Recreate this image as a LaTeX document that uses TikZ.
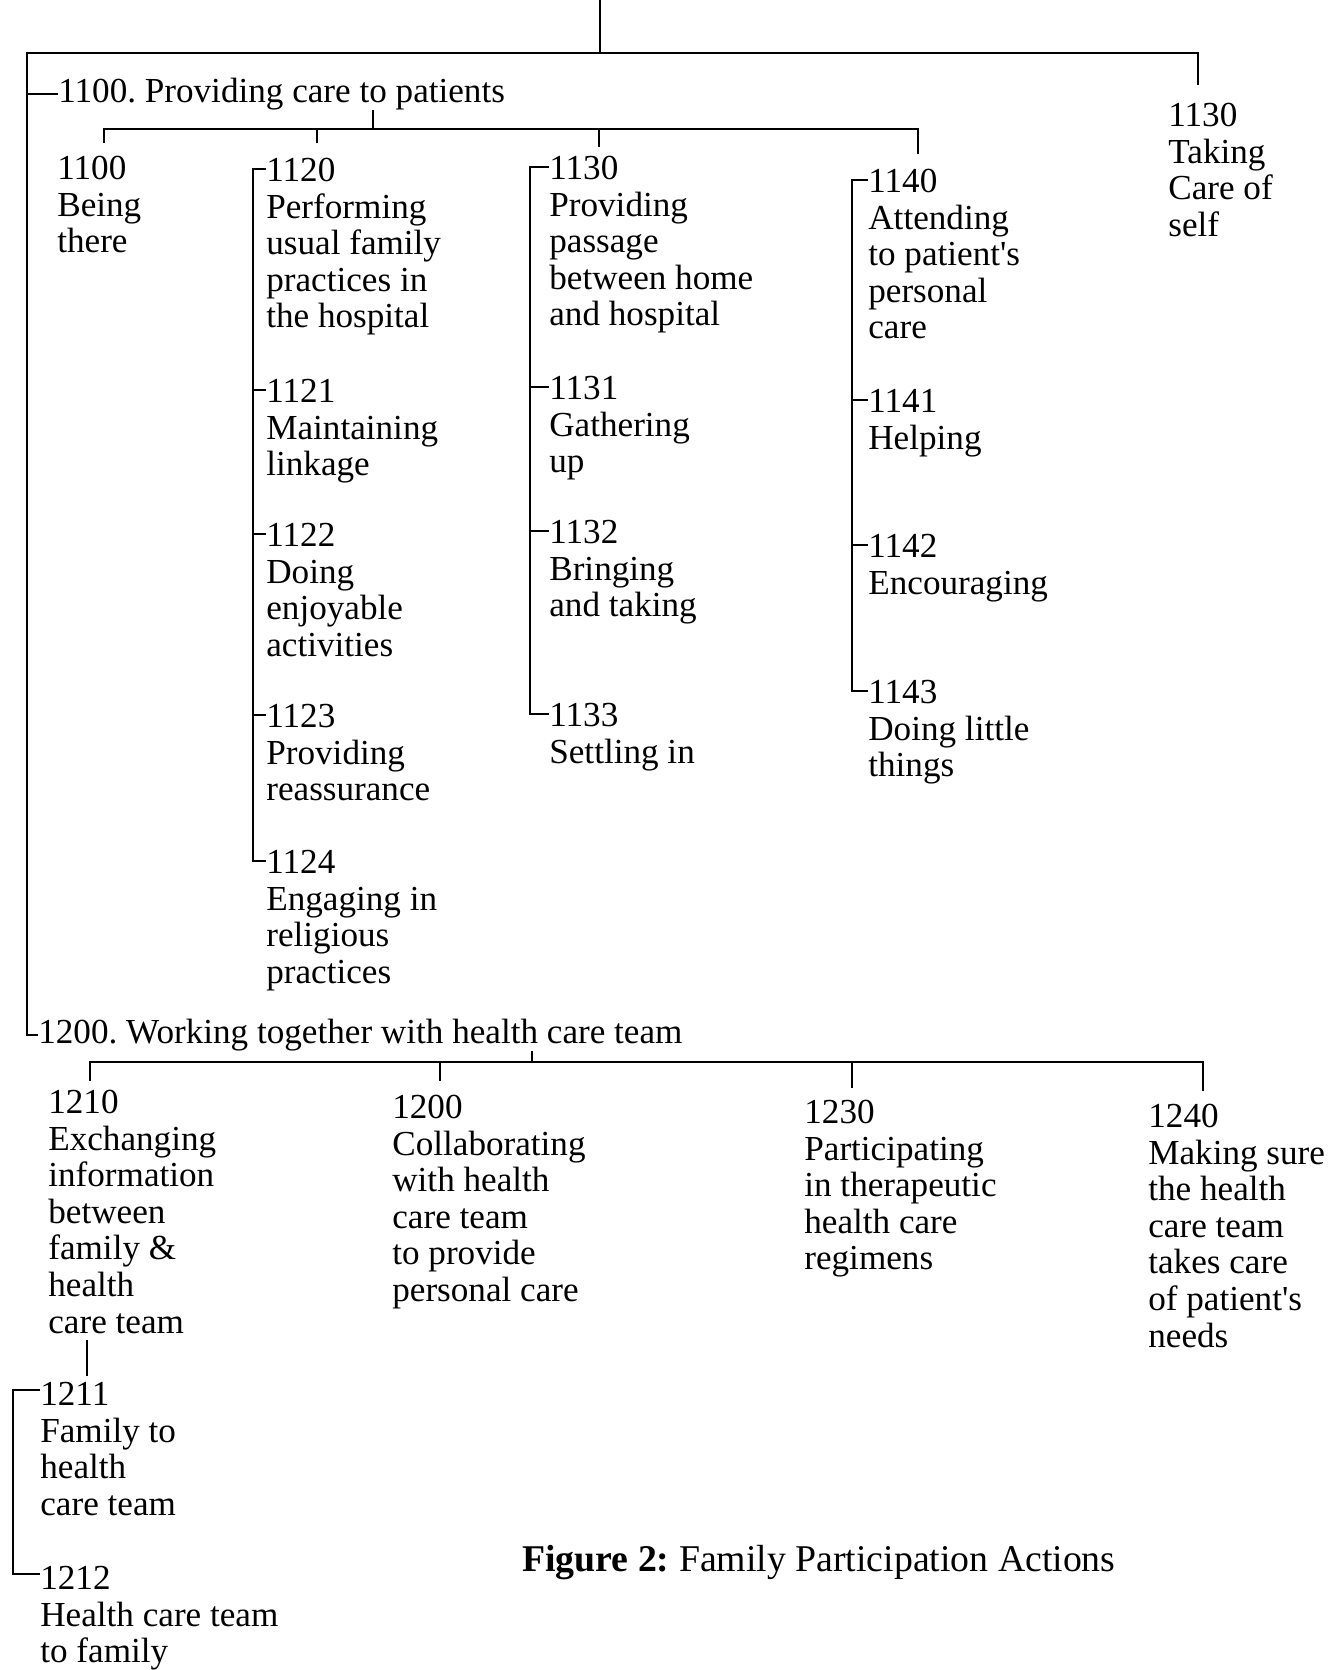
\documentclass[tikz,border=0pt]{standalone}
\usepackage{fontspec}
\setmainfont{Liberation Serif}
\usetikzlibrary{calc}
\frenchspacing

\begin{document}
\begin{tikzpicture}[x=0.02cm,y=-0.02cm,font=\fontsize{20}{20.8}\selectfont]
  \tikzset{
    entry/.style={anchor=north west, inner sep=0pt, align=left},
    head/.style={anchor=west, inner sep=0pt},
    link/.style={draw=black, line width=1.2pt}
  }
  \useasboundingbox (0,0) rectangle (1333,1670);

  % top level
  \coordinate (root) at (600,0);
  \coordinate (spine) at (27,53);
  \coordinate (cself) at (1198,85);
  \node[head] (h1100) at (58,94) {1100. Providing care to patients};
  \node[head] (h1200) at (38,1035) {1200. Working together with health care team};
  \node[entry] (self) at (1168,103) {1130\\Taking\\Care of\\self};
  \draw[link] (root) -- (root |- spine);
  \draw[link] (h1200.west) -| (spine) -| (cself);
  \draw[link] (h1100.west) -- (h1100.west -| spine);

  % 1100 branch
  \coordinate (hub1) at (373,129);
  \coordinate (d1100) at (104,143);
  \coordinate (d1120) at (317,143);
  \coordinate (d1130) at (599,147);
  \coordinate (d1140) at (918,154);
  \draw[link] (h1100.south -| hub1) -- (hub1);
  \draw[link] (d1100) |- (d1140 |- hub1) -- (d1140);
  \draw[link] (d1120) -- (d1120 |- hub1);
  \draw[link] (d1130) -- (d1130 |- hub1);

  \node[entry] (n1100) at (57,156) {1100\\Being\\there};

  \node[entry] (n1120) at (266,158) {1120\\Performing\\usual family\\practices in\\the hospital};
  \node[entry] (n1121) at (266,379) {1121\\Maintaining\\linkage};
  \node[entry] (n1122) at (266,523) {1122\\Doing\\enjoyable\\activities};
  \node[entry] (n1123) at (266,704) {1123\\Providing\\reassurance};
  \node[entry] (n1124) at (266,850) {1124\\Engaging in\\religious\\practices};
  \draw[link] ($(n1120.north west)+(0,11)$) -- ++(-13,0) |- ($(n1124.north west)+(0,11)$);
  \foreach \n in {1121,1122,1123}
    \draw[link] ($(n\n.north west)+(0,11)$) -- ++(-13,0);

  \node[entry] (n1130) at (549,156) {1130\\Providing\\passage\\between home\\and hospital};
  \node[entry] (n1131) at (549,376) {1131\\Gathering\\up};
  \node[entry] (n1132) at (549,520) {1132\\Bringing\\and taking};
  \node[entry] (n1133) at (549,703) {1133\\Settling in};
  \draw[link] ($(n1130.north west)+(0,11)$) -- ++(-19,0) |- ($(n1133.north west)+(0,11)$);
  \foreach \n in {1131,1132}
    \draw[link] ($(n\n.north west)+(0,11)$) -- ++(-19,0);

  \node[entry] (n1140) at (868,169) {1140\\Attending\\to patient\textquotesingle s\\personal\\care};
  \node[entry] (n1141) at (868,389) {1141\\Helping};
  \node[entry] (n1142) at (868,534) {1142\\Encouraging};
  \node[entry] (n1143) at (868,680) {1143\\Doing little\\things};
  \draw[link] ($(n1140.north west)+(0,11)$) -- ++(-16,0) |- ($(n1143.north west)+(0,11)$);
  \foreach \n in {1141,1142}
    \draw[link] ($(n\n.north west)+(0,11)$) -- ++(-16,0);

  % 1200 branch
  \coordinate (hub3) at (532,1062);
  \coordinate (d1210) at (90,1081);
  \coordinate (d1220) at (440,1081);
  \coordinate (d1230) at (852,1088);
  \coordinate (d1240) at (1203,1091);
  \draw[link] (h1200.south -| hub3) -- (hub3);
  \draw[link] (d1210) |- (d1240 |- hub3) -- (d1240);
  \draw[link] (d1220) -- (d1220 |- hub3);
  \draw[link] (d1230) -- (d1230 |- hub3);

  \node[entry] (n1210) at (48,1090) {1210\\Exchanging\\information\\between\\family \&\\health\\care team};
  \node[entry] (n1220) at (392,1095) {1200\\Collaborating\\with health\\care team\\to provide\\personal care};
  \node[entry] (n1230) at (804,1100) {1230\\Participating\\in therapeutic\\health care\\regimens};
  \node[entry] (n1240) at (1148,1104) {1240\\Making sure\\the health\\care team\\takes care\\of patient\textquotesingle s\\needs};

  \node[entry] (n1211) at (40,1382) {1211\\Family to\\health\\care team};
  \node[entry] (n1212) at (40,1566) {1212\\Health care team\\to family};
  \coordinate (s1210) at (87,1340);
  \draw[link] (s1210) -- ($(s1210 |- n1211.north)+(0,-6)$);
  \draw[link] ($(n1211.north west)+(0,8)$) -- ++(-27,0) |- ($(n1212.north west)+(0,8)$);

  \node[anchor=west, inner sep=0pt, font=\fontsize{21.5}{24}\selectfont] (cap) at (522,1563)
    {\textbf{Figure 2:} Family Participation Actions};
\end{tikzpicture}
\end{document}
